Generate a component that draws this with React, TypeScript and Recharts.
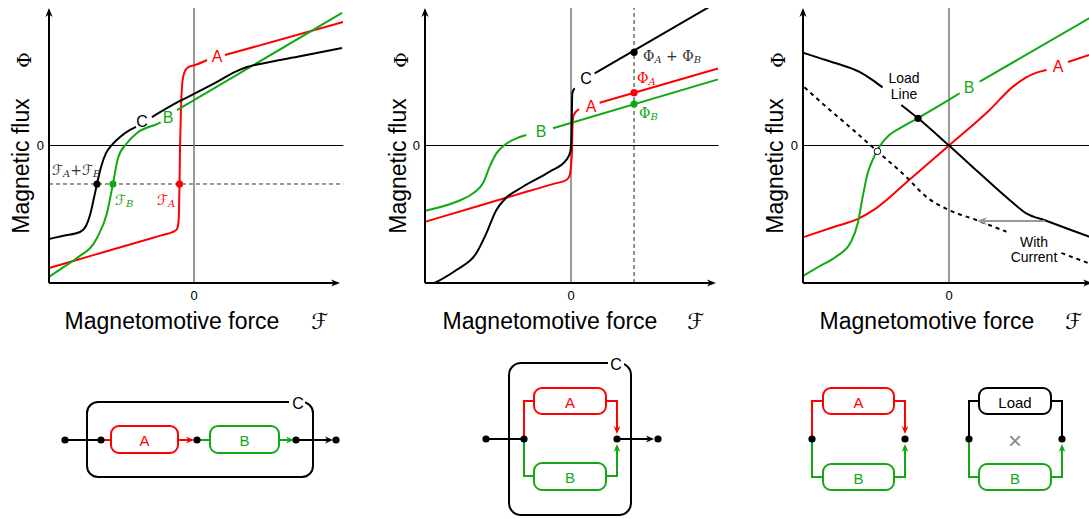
import React from 'react';
import { ComposedChart, Line, XAxis, YAxis, ReferenceLine, ReferenceDot } from 'recharts';

const RED = '#ff0000';
const GREEN = '#12a812';
const BLACK = '#000000';
const ZGRAY = '#777777';
const SANS = '"Liberation Sans", Arial, Helvetica, sans-serif';
const SERIF = '"DejaVu Serif", "Liberation Serif", serif';
const SCRIPT_F = '\u2131';

// ---------- Panel 1 : series (C = A then B) ----------
const p1A = [
  { x: -10, y: -8.91 }, { x: -7, y: -7.99 }, { x: -4, y: -7.07 }, { x: -2.2, y: -6.52 },
  { x: -1.45, y: -6.29 }, { x: -1.17, y: -6.07 }, { x: -1.05, y: -5.3 },
  { x: -1.0, y: -2.8 }, { x: -0.96, y: 0 }, { x: -0.9, y: 2.58 }, { x: -0.82, y: 4.4 },
  { x: -0.68, y: 5.27 }, { x: -0.4, y: 5.7 }, { x: 0.07, y: 5.85 }, { x: 0.9, y: 6.22 },
  { x: 1.5, y: null }, { x: 2.14, y: 6.58 }, { x: 10.28, y: 8.98 },
];
const p1B = [
  { x: -10, y: -9.56 }, { x: -9, y: -8.85 }, { x: -8.07, y: -8.18 }, { x: -6.69, y: -6.73 }, { x: -6.0, y: -4.91 },
  { x: -5.59, y: -2.8 }, { x: -5.24, y: -0.91 }, { x: -4.62, y: 0.18 }, { x: -3.93, y: 0.91 },
  { x: -2.55, y: 1.56 }, { x: -2.3, y: 1.68 }, { x: -1.8, y: null }, { x: -1.17, y: 2.58 },
  { x: 10.21, y: 9.64 },
];
const p1C = [
  { x: -10, y: -6.8 }, { x: -9, y: -6.56 }, { x: -7.86, y: -6.29 }, { x: -7.45, y: -5.85 }, { x: -7.17, y: -5.05 },
  { x: -6.9, y: -3.82 }, { x: -6.69, y: -2.8 }, { x: -6.41, y: -1.56 }, { x: -6.07, y: -0.55 },
  { x: -5.66, y: 0.04 }, { x: -5.1, y: 0.62 }, { x: -4.41, y: 1.13 }, { x: -4.0, y: 1.35 },
  { x: -3.5, y: null }, { x: -2.9, y: 2.07 }, { x: -0.97, y: 3.24 }, { x: 0, y: 3.75 },
  { x: 1.59, y: 4.62 }, { x: 2.83, y: 5.35 }, { x: 3.66, y: 5.71 }, { x: 4.55, y: 5.93 },
  { x: 7.4, y: 6.51 }, { x: 10.21, y: 7.09 },
];
const p1Level = -2.8;
const p1Points = { C: -6.69, B: -5.59, A: -1.0 };

// ---------- Panel 2 : parallel (C = A + B) ----------
const p2A = [
  { x: -9.98, y: -5.54 }, { x: -6, y: -4.29 }, { x: -3, y: -3.35 }, { x: -1.2, y: -2.79 },
  { x: -0.32, y: -2.51 }, { x: -0.1, y: -2.2 }, { x: 0.0, y: -1.5 },
  { x: 0.07, y: -0.33 }, { x: 0.1, y: 1.37 }, { x: 0.18, y: 2.22 }, { x: 0.55, y: 2.65 },
  { x: 1.2, y: null }, { x: 1.96, y: 3.11 }, { x: 10.07, y: 5.6 },
];
const p2B = [
  { x: -9.98, y: -4.74 }, { x: -7.85, y: -4.09 }, { x: -6.71, y: -3.48 }, { x: -6.03, y: -2.75 },
  { x: -5.57, y: -1.54 }, { x: -5.11, y: -0.57 }, { x: -4.54, y: 0.04 }, { x: -3.75, y: 0.52 },
  { x: -3.06, y: 0.76 }, { x: -2.1, y: null }, { x: -1.23, y: 1.25 }, { x: 10.07, y: 4.81 },
];
const p2C = [
  { x: -9.34, y: -10 }, { x: -7.85, y: -9.05 }, { x: -6.49, y: -7.84 }, { x: -5.8, y: -6.39 },
  { x: -5.11, y: -4.69 }, { x: -4.54, y: -3.91 }, { x: -3.29, y: -3.0 }, { x: -1.46, y: -1.9 },
  { x: -0.32, y: -1.05 }, { x: -0.05, y: -0.45 }, { x: 0.02, y: 0.4 }, { x: 0.06, y: 2.5 },
  { x: 0.09, y: 3.8 }, { x: 0.25, y: 4.16 }, { x: 0.9, y: null }, { x: 1.62, y: 5.25 },
  { x: 9.5, y: 10.1 },
];
const p2Force = 4.32;
const p2Points = { C: 6.78, A: 3.84, B: 3.02 };

// ---------- Panel 3 : magnet with load line ----------
const p3A = [
  { x: -10, y: -6.68 }, { x: -8, y: -5.96 }, { x: -6.16, y: -5.3 }, { x: -5.0, y: -4.57 }, { x: -2.73, y: -2.51 },
  { x: 0, y: 0 }, { x: 2.78, y: 2.58 }, { x: 4.38, y: 4.28 }, { x: 5.29, y: 4.96 },
  { x: 6.0, y: 5.3 }, { x: 6.69, y: 5.49 }, { x: 7.4, y: null }, { x: 8.15, y: 6.07 },
  { x: 10.5, y: 6.9 },
];
const p3B = [
  { x: -10, y: -9.49 }, { x: -8.9, y: -8.8 }, { x: -7.74, y: -8.09 }, { x: -6.71, y: -7.0 }, { x: -6.25, y: -5.66 },
  { x: -5.91, y: -3.72 }, { x: -5.57, y: -2.02 }, { x: -5.23, y: -1.05 }, { x: -4.77, y: -0.09 },
  { x: -4.09, y: 0.76 }, { x: -3.18, y: 1.37 }, { x: -2.15, y: 1.98 }, { x: -0.21, y: 3.19 },
  { x: 0.73, y: 3.8 }, { x: 1.4, y: null }, { x: 2.1, y: 4.64 }, { x: 10.5, y: 9.81 },
];
const p3Load = [
  { x: -10, y: 6.75 }, { x: -8.9, y: 6.37 }, { x: -7.74, y: 5.98 }, { x: -6.16, y: 5.37 }, { x: -5.23, y: 4.76 },
  { x: -4.55, y: 4.23 }, { x: -3.9, y: null }, { x: -3.27, y: 2.95 }, { x: -2.12, y: 1.98 },
  { x: 0, y: 0 }, { x: 2.1, y: -2.02 }, { x: 4.15, y: -3.96 }, { x: 5.29, y: -4.93 },
  { x: 6.66, y: -5.47 }, { x: 9.59, y: -6.63 }, { x: 10.5, y: -6.99 },
];
const p3Current = [
  { x: -9.9, y: 4.23 }, { x: -8.42, y: 2.82 }, { x: -6.82, y: 1.37 }, { x: -4.88, y: -0.45 },
  { x: -2.94, y: -2.27 }, { x: -1.57, y: -3.72 }, { x: 0, y: -4.69 }, { x: 1.87, y: -5.42 },
  { x: 3.93, y: -6.27 }, { x: 5.8, y: null }, { x: 7.7, y: -7.82 }, { x: 9.61, y: -8.58 },
  { x: 10.5, y: -8.94 },
];
const p3Operating = { x: -2.12, y: 1.98 };
const p3Shifted = { x: -4.9, y: -0.42 };
const p3Shift = { from: 6.58, to: 1.92, y: -5.49 };

const tickLabels = ['0'];

// ---------- helpers ----------
const arrowShape = (dir: string, color: string, len = 9, half = 3.6) => (props: any) => {
  const { cx, cy } = props;
  const rot = ({ right: 0, down: 90, left: 180, up: -90 } as any)[dir];
  return (
    <path
      d={`M0,0 L${-len},${-half} L${-len * 0.7},0 L${-len},${half} Z`}
      transform={`translate(${cx},${cy}) rotate(${rot})`}
      fill={color}
    />
  );
};

const textShape = (content: any, color: string, opts: any = {}) => (props: any) => {
  const { cx, cy } = props;
  return (
    <text
      x={cx + (opts.dx || 0)}
      y={cy + (opts.dy || 0)}
      textAnchor={opts.anchor || 'middle'}
      dominantBaseline="central"
      fill={color}
      fontSize={opts.size || 15}
      fontFamily={opts.family || SANS}
      fontStyle={opts.style || 'normal'}
    >
      {content}
    </text>
  );
};

function calF(parts: string[]) {
  const out: any[] = [];
  parts.forEach((p, i) => {
    if (i > 0) out.push(<tspan key={'p' + i} dy={-3}>+</tspan>);
    out.push(<tspan key={'f' + i} fontStyle="normal" fontFamily={'"DejaVu Sans", sans-serif'}>{SCRIPT_F}</tspan>);
    out.push(<tspan key={'s' + i} dy={3} fontSize={10} fontStyle="italic">{p}</tspan>);
  });
  return out;
}

function phi(parts: string[]) {
  const out: any[] = [];
  parts.forEach((p, i) => {
    if (i > 0) out.push(<tspan key={'p' + i} dy={-3}>{' + '}</tspan>);
    out.push(<tspan key={'f' + i} fontStyle="normal">Φ</tspan>);
    out.push(<tspan key={'s' + i} dy={3} fontSize={10} fontStyle="italic">{p}</tspan>);
  });
  return out;
}

const PLOT_TOP = 8;
const PLOT_BOTTOM = 283;
const CH_H = 340;

function Panel({ left, plotLeft, xmin, xmax, ppu, arrowTip, children }: any) {
  const plotW = (xmax - xmin) * ppu;
  const ml = plotLeft - left;
  const width = ml + plotW + 20;
  return (
    <div style={{ position: 'absolute', left, top: 0 }}>
      <ComposedChart
        width={width}
        height={CH_H}
        margin={{ top: PLOT_TOP, bottom: CH_H - PLOT_BOTTOM, left: ml, right: 20 }}
      >
        <XAxis type="number" dataKey="x" domain={[xmin, xmax]} allowDataOverflow hide />
        <YAxis type="number" dataKey="y" domain={[-10, 10]} allowDataOverflow hide />
        <ReferenceLine y={0} stroke={BLACK} strokeWidth={1} ifOverflow="visible" />
        <ReferenceLine x={0} stroke={ZGRAY} strokeWidth={1.5} ifOverflow="visible" />
        {children}
        <ReferenceLine segment={[{ x: xmin, y: -10 }, { x: arrowTip - 0.35, y: -10 }]} stroke={BLACK} strokeWidth={2} ifOverflow="visible" />
        <ReferenceLine segment={[{ x: xmin, y: -10 }, { x: xmin, y: 9.6 }]} stroke={BLACK} strokeWidth={2} ifOverflow="visible" />
        <ReferenceDot x={arrowTip} y={-10} r={1} ifOverflow="visible" shape={arrowShape('right', BLACK)} />
        <ReferenceDot x={xmin} y={10} r={1} ifOverflow="visible" shape={arrowShape('up', BLACK)} />
        <ReferenceDot x={0} y={-10} r={1} ifOverflow="visible" shape={textShape(tickLabels[0], BLACK, { size: 13, dy: 13 })} />
        <ReferenceDot x={xmin} y={0} r={1} ifOverflow="visible" shape={textShape(tickLabels[0], BLACK, { size: 13, dx: -5, anchor: 'end' })} />
      </ComposedChart>
    </div>
  );
}

const lineProps = { dot: false, isAnimationActive: false, type: 'monotone' as const, strokeWidth: 2, connectNulls: false, activeDot: false };

function Box({ x, y, w, h, color, label }: any) {
  return (
    <g>
      <rect x={x} y={y} width={w} height={h} rx={8} ry={8} fill="#fff" stroke={color} strokeWidth={2} />
      <text x={x + w / 2} y={y + h / 2 + 1} textAnchor="middle" dominantBaseline="central" fill={color} fontSize={15} fontFamily={SANS}>{label}</text>
    </g>
  );
}

function Arr({ x, y, dir, color }: any) {
  const rot = ({ right: 0, down: 90, left: 180, up: -90 } as any)[dir];
  return <path d="M0,0 L-8,-3.4 L-5.6,0 L-8,3.4 Z" transform={`translate(${x},${y}) rotate(${rot})`} fill={color} />;
}

function Dot({ x, y }: any) {
  return <circle cx={x} cy={y} r={3.6} fill={BLACK} />;
}

function Titles({ yx, yc, phiY, xc, fx }: any) {
  return (
    <g fontFamily={SANS}>
      <text x={yx} y={yc} transform={`rotate(-90 ${yx} ${yc})`} textAnchor="middle" dominantBaseline="central" fontSize={23}>Magnetic flux</text>
      <text x={yx + 3} y={phiY} transform={`rotate(-90 ${yx + 3} ${phiY})`} textAnchor="middle" dominantBaseline="central" fontSize={19} fontFamily={SERIF}>Φ</text>
      <text x={xc} y={321} textAnchor="middle" dominantBaseline="central" fontSize={23}>Magnetomotive force</text>
      <text x={fx} y={321} textAnchor="middle" dominantBaseline="central" fontSize={22} fontFamily={'"DejaVu Sans", sans-serif'}>{SCRIPT_F}</text>
    </g>
  );
}

function Background() {
  return (
    <svg width={1089} height={519} style={{ position: 'absolute', left: 0, top: 0 }}>
      <Titles yx={21} yc={166} phiY={60} xc={172} fx={320} />
      <Titles yx={398} yc={166} phiY={60} xc={550} fx={696} />
      <Titles yx={775} yc={166} phiY={60} xc={927} fx={1074} />

      {/* Diagram 1: series */}
      <rect x={87} y={402} width={226} height={75} rx={11} fill="none" stroke={BLACK} strokeWidth={2} />
      <rect x={289} y={394} width={16} height={16} fill="#fff" />
      <text x={298} y={403} textAnchor="middle" dominantBaseline="central" fontSize={16} fontFamily={SANS}>C</text>
      <line x1={65} y1={440} x2={101} y2={440} stroke={BLACK} strokeWidth={2} />
      <line x1={101} y1={440} x2={111} y2={440} stroke={RED} strokeWidth={2} />
      <Box x={111} y={426} w={67} h={27} color={RED} label="A" />
      <line x1={178} y1={440} x2={190} y2={440} stroke={RED} strokeWidth={2} />
      <Arr x={194} y={440} dir="right" color={RED} />
      <line x1={197} y1={440} x2={210} y2={440} stroke={GREEN} strokeWidth={2} />
      <Box x={210} y={426} w={69} h={27} color={GREEN} label="B" />
      <line x1={279} y1={440} x2={290} y2={440} stroke={GREEN} strokeWidth={2} />
      <Arr x={294} y={440} dir="right" color={GREEN} />
      <line x1={296} y1={440} x2={329} y2={440} stroke={BLACK} strokeWidth={2} />
      <Arr x={333} y={440} dir="right" color={BLACK} />
      <Dot x={65} y={440} /><Dot x={101} y={440} /><Dot x={197} y={440} /><Dot x={296} y={440} /><Dot x={336} y={440} />

      {/* Diagram 2: parallel */}
      <rect x={509} y={363} width={122} height={152} rx={12} fill="none" stroke={BLACK} strokeWidth={2} />
      <rect x={608} y={355} width={16} height={16} fill="#fff" />
      <text x={616} y={364} textAnchor="middle" dominantBaseline="central" fontSize={16} fontFamily={SANS}>C</text>
      <line x1={486} y1={439} x2={524} y2={439} stroke={BLACK} strokeWidth={2} />
      <path d="M524,439 V401 H534" fill="none" stroke={RED} strokeWidth={2} />
      <Box x={534} y={388} w={72} h={26} color={RED} label="A" />
      <path d="M606,401 H617 V429" fill="none" stroke={RED} strokeWidth={2} />
      <Arr x={617} y={434} dir="down" color={RED} />
      <path d="M524,439 V476 H534" fill="none" stroke={GREEN} strokeWidth={2} />
      <Box x={534} y={463} w={72} h={27} color={GREEN} label="B" />
      <path d="M606,476 H617 V449" fill="none" stroke={GREEN} strokeWidth={2} />
      <Arr x={617} y={444} dir="up" color={GREEN} />
      <line x1={617} y1={439} x2={650} y2={439} stroke={BLACK} strokeWidth={2} />
      <Arr x={654} y={439} dir="right" color={BLACK} />
      <Dot x={486} y={439} /><Dot x={524} y={439} /><Dot x={617} y={439} /><Dot x={658} y={439} />

      {/* Diagram 3a */}
      <path d="M812,439 V401 H823" fill="none" stroke={RED} strokeWidth={2} />
      <Box x={823} y={388} w={71} h={26} color={RED} label="A" />
      <path d="M894,401 H905 V429" fill="none" stroke={RED} strokeWidth={2} />
      <Arr x={905} y={434} dir="down" color={RED} />
      <path d="M812,439 V477 H823" fill="none" stroke={GREEN} strokeWidth={2} />
      <Box x={823} y={464} w={71} h={26} color={GREEN} label="B" />
      <path d="M894,477 H905 V449" fill="none" stroke={GREEN} strokeWidth={2} />
      <Arr x={905} y={444} dir="up" color={GREEN} />
      <Dot x={812} y={439} /><Dot x={905} y={439} />

      {/* Diagram 3b */}
      <path d="M969,439 V401 H979" fill="none" stroke={BLACK} strokeWidth={2} />
      <Box x={979} y={388} w={72} h={26} color={BLACK} label="Load" />
      <path d="M1051,401 H1062 V439" fill="none" stroke={BLACK} strokeWidth={2} />
      <path d="M969,439 V477 H979" fill="none" stroke={GREEN} strokeWidth={2} />
      <Box x={979} y={464} w={72} h={26} color={GREEN} label="B" />
      <path d="M1051,477 H1062 V449" fill="none" stroke={GREEN} strokeWidth={2} />
      <Arr x={1062} y={444} dir="up" color={GREEN} />
      <text x={1015} y={440} textAnchor="middle" dominantBaseline="central" fontSize={24} fill="#888" fontFamily={SANS}>×</text>
      <Dot x={969} y={439} /><Dot x={1062} y={439} />
    </svg>
  );
}

export default function App() {
  return (
    <div style={{ position: 'absolute', left: 0, top: 0, width: 1089, height: 519, overflow: 'hidden', background: '#fff', fontFamily: SANS }}>
      <Background />

      <Panel left={0} plotLeft={49} xmin={-10} xmax={10.3} ppu={14.5} arrowTip={10.07}>
        <ReferenceLine y={p1Level} stroke="#333" strokeWidth={1} strokeDasharray="4 3" ifOverflow="visible" />
        <Line data={p1A} dataKey="y" stroke={RED} {...lineProps} />
        <Line data={p1B} dataKey="y" stroke={GREEN} {...lineProps} />
        <Line data={p1C} dataKey="y" stroke={BLACK} {...lineProps} />
        <ReferenceDot x={p1Points.C} y={p1Level} r={3.6} fill={BLACK} stroke="none" />
        <ReferenceDot x={p1Points.B} y={p1Level} r={3.6} fill={GREEN} stroke="none" />
        <ReferenceDot x={p1Points.A} y={p1Level} r={3.6} fill={RED} stroke="none" />
        <ReferenceDot x={-3.59} y={1.78} r={1} shape={textShape('C', BLACK, { size: 16 })} />
        <ReferenceDot x={-1.79} y={2.0} r={1} shape={textShape('B', GREEN, { size: 16 })} />
        <ReferenceDot x={1.59} y={6.44} r={1} shape={textShape('A', RED, { size: 16 })} />
        <ReferenceDot x={-9.79} y={-1.8} r={1} ifOverflow="visible" shape={textShape(calF(['A', 'B']), '#333', { anchor: 'start', size: 14, family: SERIF, style: 'italic' })} />
        <ReferenceDot x={-5.45} y={-3.96} r={1} shape={textShape(calF(['B']), GREEN, { anchor: 'start', size: 14, family: SERIF, style: 'italic' })} />
        <ReferenceDot x={-1.93} y={-3.96} r={1} shape={textShape(calF(['A']), RED, { anchor: 'middle', size: 14, family: SERIF, style: 'italic' })} />
      </Panel>

      <Panel left={363} plotLeft={425} xmin={-10} xmax={10.1} ppu={14.6} arrowTip={9.93}>
        <ReferenceLine x={p2Force} stroke="#555" strokeWidth={1.3} strokeDasharray="4 3" ifOverflow="visible" />
        <Line data={p2A} dataKey="y" stroke={RED} {...lineProps} />
        <Line data={p2B} dataKey="y" stroke={GREEN} {...lineProps} />
        <Line data={p2C} dataKey="y" stroke={BLACK} {...lineProps} />
        <ReferenceDot x={p2Force} y={p2Points.C} r={3.6} fill={BLACK} stroke="none" />
        <ReferenceDot x={p2Force} y={p2Points.A} r={3.6} fill={RED} stroke="none" />
        <ReferenceDot x={p2Force} y={p2Points.B} r={3.6} fill={GREEN} stroke="none" />
        <ReferenceDot x={1.03} y={4.84} r={1} shape={textShape('C', BLACK, { size: 16 })} />
        <ReferenceDot x={1.37} y={2.87} r={1} shape={textShape('A', RED, { size: 16 })} />
        <ReferenceDot x={-2.05} y={1.05} r={1} shape={textShape('B', GREEN, { size: 16 })} />
        <ReferenceDot x={4.93} y={6.51} r={1} shape={textShape(phi(['A', 'B']), '#333', { anchor: 'start', size: 14, family: SERIF })} />
        <ReferenceDot x={4.52} y={4.91} r={1} shape={textShape(phi(['A']), RED, { anchor: 'start', size: 14, family: SERIF })} />
        <ReferenceDot x={4.66} y={2.36} r={1} shape={textShape(phi(['B']), GREEN, { anchor: 'start', size: 14, family: SERIF })} />
      </Panel>

      <Panel left={726} plotLeft={803} xmin={-10} xmax={10.5} ppu={14.6} arrowTip={9.8}>
        <Line data={p3A} dataKey="y" stroke={RED} {...lineProps} />
        <Line data={p3B} dataKey="y" stroke={GREEN} {...lineProps} />
        <Line data={p3Load} dataKey="y" stroke={BLACK} {...lineProps} />
        <Line data={p3Current} dataKey="y" stroke={BLACK} strokeDasharray="4 4" {...lineProps} />
        <ReferenceLine segment={[{ x: p3Shift.from, y: p3Shift.y }, { x: p3Shift.to + 0.35, y: p3Shift.y }]} stroke="#999" strokeWidth={2} ifOverflow="visible" />
        <ReferenceDot x={p3Shift.to} y={p3Shift.y} r={1} shape={arrowShape('left', '#999', 10, 4)} />
        <ReferenceDot x={p3Operating.x} y={p3Operating.y} r={3.6} fill={BLACK} stroke="none" />
        <ReferenceDot x={p3Shifted.x} y={p3Shifted.y} r={3.3} fill="#fff" stroke={BLACK} strokeWidth={1} />
        <ReferenceDot x={1.37} y={4.25} r={1} shape={textShape('B', GREEN, { size: 16 })} />
        <ReferenceDot x={7.47} y={5.71} r={1} shape={textShape('A', RED, { size: 16 })} />
        <ReferenceDot x={-3.08} y={4.91} r={1} shape={textShape('Load', BLACK, { size: 14 })} />
        <ReferenceDot x={-3.08} y={3.75} r={1} shape={textShape('Line', BLACK, { size: 14 })} />
        <ReferenceDot x={5.82} y={-7.02} r={1} shape={textShape('With', BLACK, { size: 14 })} />
        <ReferenceDot x={5.82} y={-8.11} r={1} shape={textShape('Current', BLACK, { size: 14 })} />
      </Panel>
    </div>
  );
}
